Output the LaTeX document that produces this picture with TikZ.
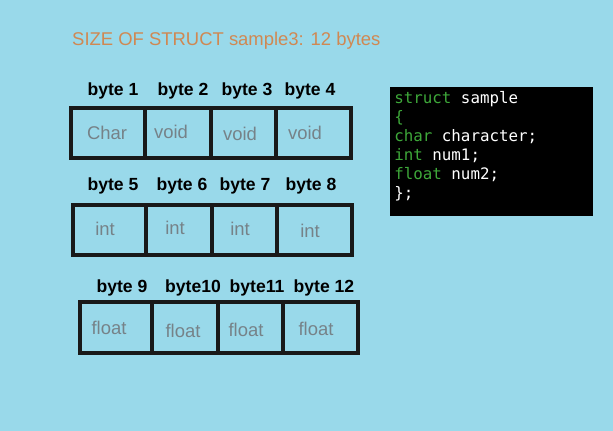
\documentclass[tikz,border=0pt]{standalone}
\usepackage{fontspec}
\setmainfont{Liberation Sans}
\newfontfamily\codefont{DejaVu Sans Mono}
\definecolor{bgblue}{RGB}{153,217,234}
\definecolor{titleorange}{RGB}{208,136,82}
\definecolor{cellgray}{RGB}{118,130,136}
\definecolor{kwgreen}{RGB}{62,168,58}
\newcommand{\kw}[1]{\textcolor{kwgreen}{#1}}

\begin{document}
\begin{tikzpicture}[x=0.02cm,y=-0.02cm,
  box/.style={line width=1.8pt,draw=black!90},
  bytelbl/.style={font=\fontsize{10}{12}\selectfont\bfseries},
  celltxt/.style={text=cellgray,font=\fontsize{10.5}{12}\selectfont}]
\fill[bgblue] (0,0) rectangle (613,431);
\useasboundingbox (0,0) rectangle (613,431);

\node[anchor=west,text=titleorange,font=\fontsize{10.5}{12}\selectfont] (title) at (66,41) {SIZE OF STRUCT sample3: 12 bytes};

% bytes 1-4
\draw[box] (71,108) rectangle (351,158);
\draw[box] (145,108) -- (145,158) (211,108) -- (211,158) (276,108) -- (276,158);
\node[bytelbl] (b1) at (113,91) {byte 1};
\node[bytelbl] (b2) at (183,91) {byte 2};
\node[bytelbl] (b3) at (247,91) {byte 3};
\node[bytelbl] (b4) at (310,91) {byte 4};
\node[celltxt] (c1) at (107,133) {Char};
\node[celltxt] (c2) at (171,132) {void};
\node[celltxt] (c3) at (240,134) {void};
\node[celltxt] (c4) at (305,133) {void};

% bytes 5-8
\draw[box] (73,205) rectangle (352,255);
\draw[box] (146,205) -- (146,255) (212,205) -- (212,255) (277,205) -- (277,255);
\node[bytelbl] (b5) at (113,186) {byte 5};
\node[bytelbl] (b6) at (182,186) {byte 6};
\node[bytelbl] (b7) at (245,186) {byte 7};
\node[bytelbl] (b8) at (311,186) {byte 8};
\node[celltxt] (c5) at (105,229) {int};
\node[celltxt] (c6) at (175,228) {int};
\node[celltxt] (c7) at (240,229) {int};
\node[celltxt] (c8) at (310,231) {int};

% bytes 9-12
\draw[box] (80,302) rectangle (358,353);
\draw[box] (152,302) -- (152,353) (218,302) -- (218,353) (283,302) -- (283,353);
\node[bytelbl] (b9) at (122,288) {byte 9};
\node[bytelbl] (b10) at (193,288) {byte10};
\node[bytelbl] (b11) at (257,288) {byte11};
\node[bytelbl] (b12) at (324,288) {byte 12};
\node[celltxt] (c9) at (109,328) {float};
\node[celltxt] (c10) at (183,331) {float};
\node[celltxt] (c11) at (246,330) {float};
\node[celltxt] (c12) at (316,329) {float};

% struct code
\fill[black] (390,87) rectangle (593,216);
\node[anchor=north west,inner sep=0pt,align=left,text=white,
  font=\codefont\fontsize{9}{10.8}\selectfont] (code) at (394,91)
  {\kw{struct} sample\\ \kw{\{}\\ \kw{char} character;\\ \kw{int} num1;\\ \kw{float} num2;\\ \};};
\end{tikzpicture}
\end{document}
